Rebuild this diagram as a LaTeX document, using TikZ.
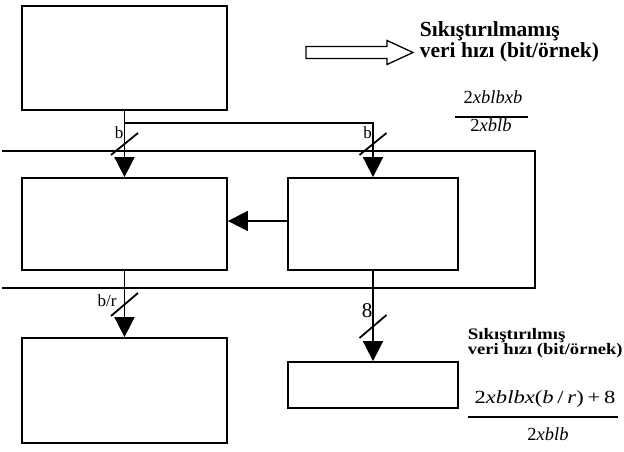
\documentclass[tikz,border=0pt]{standalone}
\usepackage{fontspec}
\usepackage{graphicx}
\setmainfont{Liberation Serif}
\usetikzlibrary{arrows.meta}
\begin{document}
\begin{tikzpicture}[x=1pt,y=-1pt,
  line width=1.8pt,
  blk/.style={draw,line width=1.8pt,inner sep=0pt},
  conn/.style={line width=1.8pt,-{Triangle[width=20pt,length=20pt]}},
  slash/.style={line width=1.8pt},
  lbl/.style={inner sep=0pt,font=\fontsize{17}{17}\selectfont},
  head/.style={inner sep=0pt,align=left,anchor=north west},
  frac/.style={inner sep=0pt,anchor=base,font=\fontsize{18.5}{18.5}\selectfont}]
\useasboundingbox (0,0) rectangle (624,452);
% blocks
\node[blk,minimum width=205pt,minimum height=104pt] (A) at (124.5,58) {};
\node[blk,minimum width=205pt,minimum height=92pt] (B) at (124.5,224) {};
\node[blk,minimum width=170pt,minimum height=92pt] (C) at (373,224) {};
\node[blk,minimum width=205pt,minimum height=105pt] (D) at (124.5,390.5) {};
\node[blk,minimum width=170pt,minimum height=46pt] (E) at (373,385) {};
% open frame
\draw (2,151) -- (535,151) -- (535,288) -- (2,288);
% connectors
\coordinate (br) at (124.5,123);
\draw[conn] (A.south) -- (B.north);
\draw[conn] (br) -| (C.north);
\draw[conn] ([yshift=3pt]C.west) -- ([yshift=3pt]B.east);
\draw[conn] (B.south) -- (D.north);
\draw[conn] (C.south) -- (E.north);
% slashes
\draw[slash] (111,155) -- (138,133);
\draw[slash] (359.5,155) -- (386.5,133);
\draw[slash] (111,316) -- (138,293);
\draw[slash] (359.5,338) -- (386.5,315);
% labels
\node[lbl,anchor=base] (lb1) at (119,138.5) {b};
\node[lbl,anchor=base] (lb2) at (367.5,138.5) {b};
\node[lbl,anchor=base] (lb3) at (107,306.5) {b/r};
\node[lbl,anchor=base,font=\fontsize{21}{21}\selectfont] (lb4) at (367,317.5) {8};
% hollow arrow
\draw[line width=1.3pt] (306,46.5) -- (387,46.5) -- (387,40.5) -- (413,52.5) -- (387,64.5) -- (387,58.5) -- (306,58.5) -- cycle;
% texts
\node[head,font=\fontsize{21.5}{20.5}\selectfont\bfseries] (t1) at (419,21) {Sıkıştırılmamış\\veri hızı (bit/örnek)};
\node[head,font=\fontsize{16}{15}\selectfont\bfseries] (t2) at (467,327) {\scalebox{1.18}[1]{Sıkıştırılmış}\\\scalebox{1.16}[1]{veri hızı (bit/örnek)}};
% fraction 1
\node[frac] (n1) at (493,103) {2\textit{xblbxb}};
\node[frac] (d1) at (491,131) {2\textit{xblb}};
\draw[line width=1.3pt] (455,117) -- (528,117);
% fraction 2
\node[frac] (n2) at (545,403) {\scalebox{1.22}[1]{2\textit{xblbx}(\textit{b}\,/\,\textit{r})\,+\,8}};
\node[frac] (d2) at (548,440) {2\textit{xblb}};
\draw[line width=1.3pt] (468,417) -- (618,417);
\end{tikzpicture}
\end{document}
